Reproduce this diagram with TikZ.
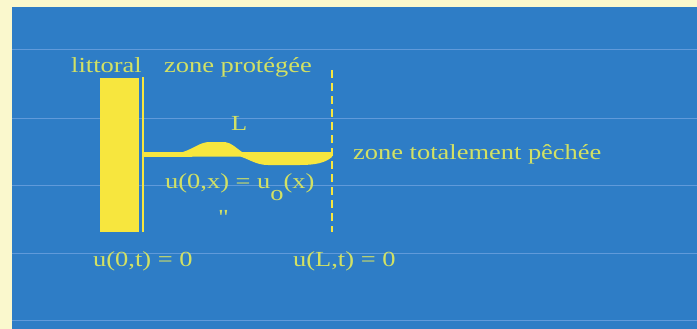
\documentclass[tikz,border=0pt]{standalone}
\usepackage{fontspec}
\setmainfont[FakeStretch=1.23]{Liberation Serif}
\newfontfamily\rawserif[FakeStretch=1.23, Ligatures=ResetAll]{Liberation Serif}
\definecolor{paper}{RGB}{250,248,205}
\definecolor{seablue}{RGB}{46,125,198}
\definecolor{scanline}{RGB}{96,154,218}
\definecolor{shore}{RGB}{247,230,62}
\definecolor{txtyellow}{RGB}{210,225,100}
\tikzset{
  lbl/.style={inner sep=0pt, anchor=base west, text=txtyellow, font=\fontsize{21.5}{25}\selectfont}
}
\begin{document}
\begin{tikzpicture}[x=1pt, y=-1pt]

	% Page and blue panel
	\useasboundingbox (0,0) rectangle (697,329);
	\fill[paper] (0,0) rectangle (697,329);
	\fill[seablue] (12,7) rectangle (697,329);
	
	% Faint scan lines across the panel
	\foreach \y in {49, 118, 185, 253, 320} {
		\draw[scanline, line width=0.7pt] (12,\y) -- (697,\y);
	}
	
	% Coast block and the boundary at x = 0
	\coordinate (C1) at (100,78);
	\coordinate (C2) at (139,232);
	\fill[shore] (C1) rectangle (C2);
	\coordinate (W1) at (142.5,77);
	\coordinate (W2) at (142.5,232);
	\draw[shore, line width=2pt] (W1) -- (W2);
	
	% Boundary at x = L (dashed)
	\coordinate (D1) at (332,70);
	\coordinate (D2) at (332,232);
	\draw[shore, line width=2pt, dash pattern=on 8pt off 5pt] (D1) -- (D2);
	
	% Initial population profile u_0(x)
	\fill[shore] (144,152) -- (183,152)
		.. controls (195,148) and (200,142) .. (210,142) -- (225,142)
		.. controls (232,143) and (236,148) .. (242,152) -- (332,152) -- (332,157)
		.. controls (325,163) and (315,165) .. (300,165) -- (268,165)
		.. controls (256,165) and (249,159) .. (240,156.5) -- (144,157) -- cycle;
	
	% Labels
	\node[lbl] (littoral) at (71,73) {littoral};
	\node[lbl] (protegee) at (164,73) {zone protégée};
	\node[lbl] (longueur) at (231,131) {L};
	\node[lbl] (pechee) at (353,160) {zone totalement pêchée};
	\node[lbl] (initiale) at (165,188) {u(0,x) = u\raisebox{-13pt}{o}(x)};
	\node[lbl] (ditto) at (218,224) {\rawserif "};
	\node[lbl] (bordgauche) at (93,266) {u(0,t) = 0};
	\node[lbl] (borddroit) at (293,266) {u(L,t) = 0};
	
\end{tikzpicture}
\end{document}
